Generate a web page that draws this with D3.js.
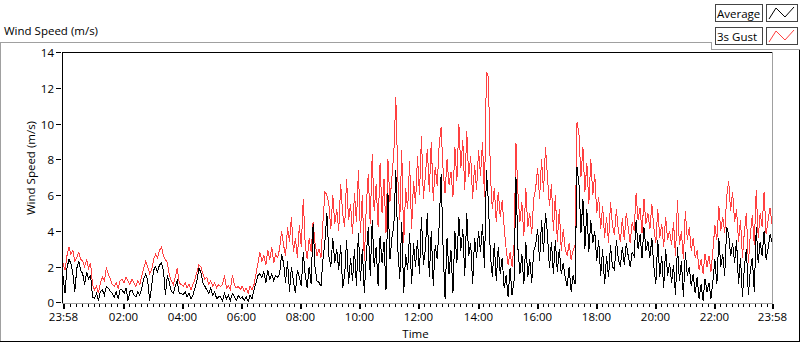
<!DOCTYPE html>
<html><head><meta charset="utf-8">
<script src="https://cdn.jsdelivr.net/npm/d3@7"></script>
<style>
body{margin:0;background:#fff;}
svg{display:block;font-family:"Open Sans",sans-serif;}
</style>
</head><body>
<svg id="chart" width="800" height="342"></svg>
<script>
// ---------- data ----------
const chartTitle = "Wind Speed (m/s)";
const yAxisTitle = "Wind Speed (m/s)";
const xAxisTitle = "Time";
const seriesNames = ["Average", "3s Gust"];
const startTime = "2000-01-01T23:58:00";
const endTime = "2000-01-02T23:58:00";
const sampleMinutes = 4;
const yTickValues = [0, 2, 4, 6, 8, 10, 12, 14];
const xTickLabels = ["23:58","02:00","04:00","06:00","08:00","10:00","12:00","14:00","16:00","18:00","20:00","22:00","23:58"];

const avgSpeed = [
1.5,0.5,1.9,2.4,2.2,1.6,0.6,1.9,2.3,1.8,
1.6,1.0,1.7,1.3,1.5,0.3,0.2,0.5,0.1,0.6,
0.7,0.4,0.9,0.8,0.6,0.5,0.3,0.6,0.2,0.7,
0.7,0.5,0.8,0.1,0.6,0.7,0.4,0.3,0.6,0.4,
0.8,1.3,1.6,1.2,0.1,0.9,1.8,2.0,1.7,2.1,
2.2,1.8,0.4,1.5,1.1,0.6,0.5,0.9,1.2,0.5,
0.5,0.4,0.6,0.3,0.5,0.2,0.4,0.8,1.2,1.9,
1.7,1.1,0.9,0.7,0.5,0.8,0.4,0.6,0.2,0.3,
0.3,0.1,0.5,0.2,0.4,0.1,0.5,0.3,0.1,0.4,
0.2,0.3,0.1,0.3,0.05,0.4,0.2,0.7,1.1,1.5,
1.6,1.4,1.7,1.1,1.8,1.3,1.6,1.2,1.5,1.4,
1.6,2.7,2.2,1.1,2.3,0.6,2.0,1.2,0.5,1.8,
1.4,0.9,2.8,1.5,0.8,2.0,1.0,4.4,1.9,1.2,
1.1,0.9,2.4,3.4,5.0,2.6,2.0,3.6,2.2,3.0,
1.8,3.2,0.8,1.5,3.5,1.0,2.5,1.2,3.0,0.9,
3.9,1.2,3.0,0.5,2.6,4.2,1.5,4.6,2.0,3.1,
0.9,3.7,2.2,3.4,0.7,6.1,2.4,3.6,4.3,7.4,
3.0,1.3,4.5,0.5,2.7,1.8,3.9,1.0,3.3,2.0,
3.5,1.6,4.8,2.1,3.0,5.0,1.4,4.0,0.9,3.2,
2.4,4.3,7.2,3.0,0.2,3.6,1.6,2.9,0.5,4.0,
2.2,4.8,2.9,4.1,1.5,5.0,2.6,3.3,1.0,3.6,
2.5,4.0,2.8,4.4,1.9,7.4,5.6,2.7,1.4,3.3,
1.2,3.1,1.6,2.5,0.8,1.5,0.3,1.9,0.4,1.2,
7.0,3.0,1.6,2.7,1.0,3.4,1.4,2.4,1.1,2.9,
3.2,4.1,2.3,4.6,2.8,5.0,3.8,1.9,3.4,1.6,
3.5,1.7,3.0,1.6,2.2,1.4,0.9,2.0,0.6,1.5,
1.0,7.6,6.6,3.9,5.8,3.0,5.2,2.8,4.6,3.3,
4.0,2.3,3.5,1.5,3.0,1.0,2.6,1.4,3.2,2.0,
1.8,3.5,2.4,2.0,3.1,2.1,3.3,2.6,2.0,2.8,
2.6,4.6,3.0,3.8,2.5,4.2,2.9,3.4,2.5,3.6,
2.0,1.0,3.5,1.4,2.6,0.8,3.0,1.5,2.2,1.1,
2.1,0.4,3.1,1.2,2.3,0.3,2.8,1.5,2.0,0.9,
1.6,0.5,1.4,0.2,1.0,0.1,1.3,0.6,1.1,0.2,
1.2,2.4,1.0,3.6,2.0,2.7,1.5,4.2,3.8,2.6,
3.3,2.2,3.5,1.0,2.5,0.3,2.0,3.0,0.4,1.8,
2.5,0.6,4.2,2.2,3.4,2.6,4.0,2.4,3.0,3.8,3.4
];

const gustSpeed = [
2.2,1.8,2.6,3.1,2.7,2.9,2.3,2.5,2.8,2.4,
2.3,2.0,2.4,1.9,2.2,1.0,0.7,0.9,0.5,1.1,
1.4,1.2,1.9,1.6,1.3,1.0,0.9,1.1,0.8,1.2,
1.3,1.1,1.4,1.2,1.0,1.3,1.1,0.9,1.2,1.0,
1.5,1.9,2.3,2.0,1.6,1.8,2.4,2.7,2.5,2.9,
3.1,2.6,2.4,2.2,1.5,1.2,1.0,1.4,1.9,1.1,
1.0,0.9,1.1,0.8,1.0,0.7,1.0,1.3,1.7,2.1,
2.0,1.6,1.3,1.4,1.0,1.2,0.9,1.1,0.8,1.0,
0.9,1.0,1.5,0.8,0.9,0.7,1.5,1.0,0.8,0.9,
0.7,0.9,0.6,0.8,0.5,0.9,0.7,1.0,1.6,2.2,
2.8,2.3,2.6,2.1,2.9,2.4,3.1,2.2,2.7,2.5,
3.0,4.0,3.2,2.6,4.2,3.4,4.8,2.8,3.6,2.5,
4.3,3.1,5.8,3.2,2.4,3.6,2.8,4.5,3.3,2.6,
3.0,2.5,4.5,6.2,6.0,5.5,4.1,6.0,4.4,5.2,
4.0,6.6,5.0,4.2,6.9,4.6,5.5,3.8,6.1,4.5,
7.4,3.9,6.0,2.3,5.4,7.2,4.4,8.3,5.1,6.6,
4.2,7.8,5.0,6.9,3.9,8.0,5.6,7.0,8.4,11.5,
7.0,4.6,8.5,3.3,6.4,5.2,7.9,4.1,6.8,5.5,
8.2,6.0,9.3,5.8,7.1,8.6,6.2,9.0,5.7,7.6,
6.5,8.8,9.8,7.4,6.1,8.0,6.6,7.3,5.9,8.7,
6.8,10.0,7.5,9.1,6.3,9.6,7.0,8.2,5.8,7.7,
6.3,8.5,7.1,9.0,5.9,12.9,12.6,7.2,5.2,6.4,
4.5,6.2,4.8,5.7,4.2,3.0,2.1,2.8,2.0,3.2,
8.9,6.1,4.5,5.6,3.7,6.4,4.2,5.0,3.8,5.8,
6.4,7.5,5.8,8.0,6.2,8.7,7.0,5.4,6.6,4.0,
6.0,3.4,5.2,2.9,4.1,3.0,2.6,3.3,2.4,2.9,
3.2,10.1,9.4,7.0,8.7,6.2,7.8,5.5,8.0,6.0,
7.2,5.0,5.9,4.1,5.4,3.6,4.8,3.3,5.6,4.3,
3.8,5.2,4.0,3.4,4.7,3.5,5.0,4.2,3.3,4.5,
4.0,6.1,4.6,5.3,3.9,5.8,4.4,5.0,4.1,5.5,
4.2,3.3,5.2,3.6,4.4,3.1,4.8,3.5,4.0,3.2,
4.5,2.6,5.7,3.2,4.0,2.4,5.1,3.5,4.2,2.9,
3.6,2.5,2.9,1.8,2.4,1.6,2.7,2.0,2.6,1.7,
2.9,4.3,3.5,5.4,4.0,4.8,3.9,5.9,6.8,5.1,
6.2,4.5,5.2,3.4,4.6,2.5,4.0,5.0,2.2,3.8,
4.9,3.2,6.3,3.6,5.0,4.2,6.2,3.8,4.6,5.3,4.4
];

const seriesColors = ["#000000", "#ff4040"];

// ---------- setup ----------
const svg = d3.select("#chart");
const plot = {l: 62, r: 773, t: 52, b: 303};
const t0 = new Date(startTime), t1 = new Date(endTime);
const x = d3.scaleTime().domain([t0, t1]).range([plot.l + 1, plot.r - 1]);
const y = d3.scaleLinear().domain([0, 14]).range([302.3, 52.3]);
const timeAt = i => new Date(t0.getTime() + i * sampleMinutes * 60000);

// outer frame
const frame = svg.append("g").attr("fill", "none").attr("shape-rendering", "crispEdges");
frame.append("path").attr("d", "M0.5,341 V42.5 H711.5 V49.5 H800").attr("stroke", "#a0a0a0");
frame.append("path").attr("d", "M0,341.5 H799.5 V49.5").attr("stroke", "#000");

// title
svg.append("text").attr("x", 4).attr("y", 35).attr("font-size", "11.5px").attr("fill", "#000").text(chartTitle);

// legend
const legend = svg.append("g");
seriesNames.forEach((name, k) => {
  const ly = 4 + k * 23;
  legend.append("rect").attr("x", 715.5).attr("y", ly + 0.5).attr("width", 47).attr("height", 17)
    .attr("fill", "#fff").attr("stroke", "#444").attr("shape-rendering", "crispEdges");
  legend.append("text").attr("x", 717).attr("y", ly + 13.5).attr("font-size", "11.5px").attr("fill", "#000").text(name);
  legend.append("rect").attr("x", 766.5).attr("y", ly + 0.5).attr("width", 31).attr("height", 17)
    .attr("fill", "#fff").attr("stroke", "#444").attr("shape-rendering", "crispEdges");
  const iconPts = [[769, 15], [776, 4], [785, 13], [794, 3]];
  legend.append("path")
    .attr("d", d3.line()(iconPts.map(p => [p[0], p[1] + ly])))
    .attr("fill", "none").attr("stroke", seriesColors[k]).attr("stroke-width", 1);
});

// plot background
svg.append("rect").attr("x", plot.l).attr("y", plot.t).attr("width", plot.r - plot.l).attr("height", plot.b - plot.t).attr("fill", "#fff");

// clip
svg.append("clipPath").attr("id", "clip").append("rect")
  .attr("x", plot.l + 1).attr("y", plot.t + 1).attr("width", plot.r - plot.l - 2).attr("height", plot.b - plot.t - 1);

// series lines
const line = d3.line().x((d, i) => x(timeAt(i))).y(d => y(d));
const lines = svg.append("g").attr("clip-path", "url(#clip)");
lines.append("path").datum(gustSpeed).attr("d", line).attr("fill", "none")
  .attr("stroke", seriesColors[1]).attr("stroke-width", 1).attr("shape-rendering", "crispEdges");
lines.append("path").datum(avgSpeed).attr("d", line).attr("fill", "none")
  .attr("stroke", seriesColors[0]).attr("stroke-width", 1).attr("shape-rendering", "crispEdges");

// plot border
const border = svg.append("g").attr("fill", "none").attr("shape-rendering", "crispEdges");
border.append("path").attr("d", `M${plot.l + 0.5},${plot.b} V${plot.t + 0.5} H${plot.r}`).attr("stroke", "#000");
border.append("path").attr("d", `M${plot.l},${plot.b + 0.5} H${plot.r - 0.5} V${plot.t}`).attr("stroke", "#a0a0a0");

// y axis
const yAxis = svg.append("g");
yTickValues.forEach(v => {
  const yy = Math.round(y(v)) + 0.5;
  yAxis.append("line").attr("x1", 56).attr("x2", 61).attr("y1", yy).attr("y2", yy)
    .attr("stroke", "#000").attr("shape-rendering", "crispEdges");
  yAxis.append("text").attr("x", 54).attr("y", yy + 4).attr("text-anchor", "end")
    .attr("font-size", "11.5px").attr("fill", "#000").text(v);
});
svg.append("text").attr("transform", "translate(35,168) rotate(-90)").attr("text-anchor", "middle")
  .attr("font-size", "11.5px").attr("fill", "#000").text(yAxisTitle);

// x axis
const parseHM = (lab, k) => {
  if (k === 0) return t0;
  if (k === xTickLabels.length - 1) return t1;
  const [h, m] = lab.split(":").map(Number);
  const d = new Date(t1); d.setHours(h, m, 0, 0); return d;
};
const majorTimes = xTickLabels.map(parseHM);
const minorTimes = d3.timeMinute.every(12).range(t0, t1).filter(d => !(d.getMinutes() === 0 && d.getHours() % 2 === 0) && d > t0);
const xAxis = svg.append("g").attr("shape-rendering", "crispEdges");
minorTimes.forEach(d => {
  const xx = Math.round(x(d)) + 0.5;
  xAxis.append("line").attr("x1", xx).attr("x2", xx).attr("y1", 304).attr("y2", 307).attr("stroke", "#000");
});
majorTimes.forEach((d, k) => {
  const xx = Math.round(x(d)) + 0.5;
  xAxis.append("line").attr("x1", xx).attr("x2", xx).attr("y1", 304).attr("y2", 309).attr("stroke", "#000").attr("stroke-width", 2);
  svg.append("text").attr("x", xx).attr("y", 321).attr("text-anchor", "middle")
    .attr("font-size", "11.5px").attr("fill", "#000").text(xTickLabels[k]);
});
svg.append("text").attr("x", 415.5).attr("y", 338).attr("text-anchor", "middle")
  .attr("font-size", "11.5px").attr("fill", "#000").text(xAxisTitle);
</script>
</body></html>
